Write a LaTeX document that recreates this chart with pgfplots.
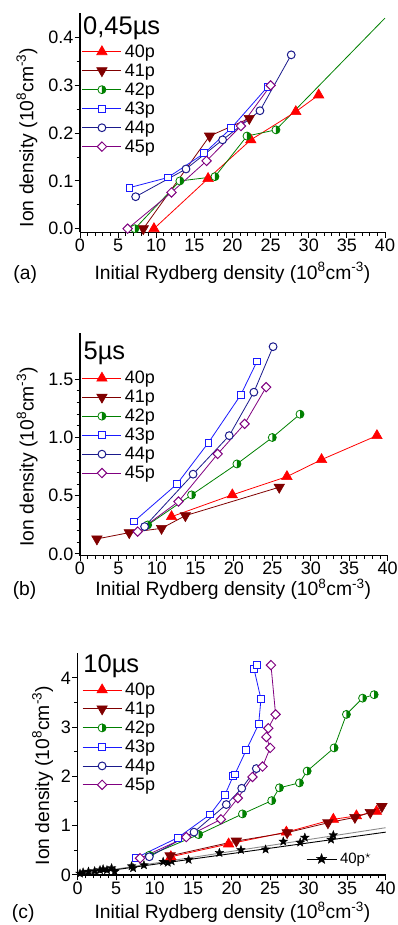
\documentclass[border=0pt]{standalone}
\usepackage{fontspec}
\setmainfont{Liberation Sans}
\usepackage{pgfplots}
\pgfplotsset{compat=1.18}

\definecolor{cRed}{HTML}{FF0000}
\definecolor{cDred}{HTML}{800000}
\definecolor{cGreen}{HTML}{008000}
\definecolor{cBlue}{HTML}{1A1AFF}
\definecolor{cNavy}{HTML}{1A1A8C}
\definecolor{cPurple}{HTML}{800080}
\definecolor{cGrey}{HTML}{8C8C8C}

\pgfdeclareplotmark{halfright}{%
  \begin{pgfscope}\pgfsetfillcolor{white}%
  \pgfpathcircle{\pgfpointorigin}{\pgfplotmarksize}\pgfusepathqfill\end{pgfscope}%
  \begin{pgfscope}\pgfsetfillcolor{cGreen}%
  \pgfpathmoveto{\pgfqpoint{0pt}{\pgfplotmarksize}}%
  \pgfpatharc{90}{-90}{\pgfplotmarksize}\pgfpathclose\pgfusepathqfill\end{pgfscope}%
  \pgfpathcircle{\pgfpointorigin}{\pgfplotmarksize}\pgfusepathqstroke
}
\pgfdeclareplotmark{fstar}{%
  \pgfpathmoveto{\pgfpointpolar{90}{\pgfplotmarksize}}%
  \pgfpathlineto{\pgfpointpolar{126}{0.42\pgfplotmarksize}}%
  \pgfpathlineto{\pgfpointpolar{162}{\pgfplotmarksize}}%
  \pgfpathlineto{\pgfpointpolar{198}{0.42\pgfplotmarksize}}%
  \pgfpathlineto{\pgfpointpolar{234}{\pgfplotmarksize}}%
  \pgfpathlineto{\pgfpointpolar{270}{0.42\pgfplotmarksize}}%
  \pgfpathlineto{\pgfpointpolar{306}{\pgfplotmarksize}}%
  \pgfpathlineto{\pgfpointpolar{342}{0.42\pgfplotmarksize}}%
  \pgfpathlineto{\pgfpointpolar{18}{\pgfplotmarksize}}%
  \pgfpathlineto{\pgfpointpolar{54}{0.42\pgfplotmarksize}}%
  \pgfpathclose\pgfusepathqfillstroke
}

\pgfplotsset{
  panel/.style={
    scale only axis, anchor=south west, clip=false,
    axis x line=bottom, axis y line=left,
    axis line style={-, line width=1.2pt},
    xmin=0, xmax=40, xtick={0,5,...,40}, minor x tick num=4,
    tick align=outside, major tick length=5.5pt, minor tick length=3.5pt,
    every tick/.style={black, line width=1pt},
    tick label style={font=\fontsize{18}{20}\selectfont, inner sep=1pt},
    /pgf/number format/assume math mode=true,
    label style={font=\fontsize{19.3}{22}\selectfont},
    xlabel={Initial Rydberg density (10\textsuperscript{8}cm\textsuperscript{-3})},
    ylabel={Ion density (10\textsuperscript{8}cm\textsuperscript{-3})},
    legend cell align=left,
    legend style={draw=none, fill=none, anchor=north west, inner sep=0pt,
      row sep=3pt, column sep=2pt, font=\fontsize{18}{20}\selectfont,
      nodes={inner sep=1pt}},
    legend image code/.code={\draw[mark repeat=2,mark phase=2,##1] plot coordinates {(0pt,0pt) (19.5pt,0pt) (39pt,0pt)};},
  },
  s40/.style={color=cRed, line width=0.8pt, mark=triangle*, mark size=6, mark options={fill=cRed, line width=0.6pt}},
  s41/.style={color=cDred, line width=0.8pt, mark=triangle*, mark size=6, mark options={rotate=180, fill=cDred, line width=0.6pt}},
  s42/.style={color=cGreen, line width=0.8pt, mark=halfright, mark size=4, mark options={line width=0.8pt}},
  s43/.style={color=cBlue, line width=0.8pt, mark=square*, mark size=3.4, mark options={fill=white, line width=1pt}},
  s44/.style={color=cNavy, line width=0.8pt, mark=*, mark size=3.9, mark options={fill=white, line width=1pt}},
  s45/.style={color=cPurple, line width=0.8pt, mark=square*, mark size=3.3, mark options={rotate=45, fill=white, line width=1pt}},
}

\begin{document}
\begin{tikzpicture}
\path[use as bounding box] (0pt,0pt) rectangle (398pt,925pt);

% ---------------- (a)
\begin{axis}[panel, at={(80pt,692.7pt)}, width=305pt, height=219pt,
  ymin=-0.0075, ymax=0.451, ytick={0,0.1,...,0.41}, minor y tick num=1,
  yticklabel style={/pgf/number format/fixed, /pgf/number format/fixed zerofill, /pgf/number format/precision=1},
  xlabel style={at={(axis description cs:0.5,-0.2146)}, anchor=base},
  ylabel style={at={(axis description cs:-0.174,0.433)}, anchor=center},
  legend style={at={(axis description cs:0.006,0.862)}}]
\addplot[forget plot, cGreen, line width=0.8pt] coordinates {(25.7,0.207) (40,0.441)};
\addplot[s40] coordinates {(9.7,0) (16.8,0.105) (22.4,0.186) (28.3,0.245) (31.3,0.28)};
\addplot[s41] coordinates {(8.3,0) (17.0,0.194) (22.2,0.231)};
\addplot[s42] coordinates {(7.2,0) (13.1,0.1) (17.7,0.109) (21.9,0.194) (25.7,0.207)};
\addplot[s43] coordinates {(6.5,0.086) (11.5,0.107) (16.3,0.158) (19.8,0.21) (24.6,0.297)};
\addplot[s44] coordinates {(7.3,0.067) (13.9,0.125) (18.7,0.186) (23.6,0.247) (27.7,0.364)};
\addplot[s45] coordinates {(6.25,0) (12.0,0.076) (16.6,0.142) (21.1,0.215) (25.0,0.3)};
\legend{40p,41p,42p,43p,44p,45p}
\node[anchor=base west, inner sep=0pt, font=\fontsize{25.5}{28}\selectfont] at (axis description cs:0.0098,0.901) {0,45µs};
\node[anchor=base west, inner sep=0pt, font=\fontsize{19.3}{22}\selectfont] at (axis description cs:-0.219,-0.2146) {(a)};
\end{axis}

% ---------------- (b)
\begin{axis}[panel, at={(80pt,369.3pt)}, width=307.7pt, height=223pt,
  ymin=-0.015, ymax=1.9, ytick={0,0.5,1,1.5}, minor y tick num=4,
  yticklabel style={/pgf/number format/fixed, /pgf/number format/fixed zerofill, /pgf/number format/precision=1},
  xlabel style={at={(axis description cs:0.498,-0.18)}, anchor=base},
  ylabel style={at={(axis description cs:-0.172,0.443)}, anchor=center},
  legend style={at={(axis description cs:0.006,0.833)}}]
\addplot[s40] coordinates {(11.9,0.32) (19.8,0.507) (26.9,0.664) (31.4,0.81) (38.6,1.016)};
\addplot[s41] coordinates {(2.2,0.129) (6.4,0.183) (10.6,0.22) (13.7,0.329) (25.9,0.573)};
\addplot[s42] coordinates {(8.8,0.249) (14.5,0.507) (20.4,0.773) (25.0,1.0) (28.6,1.2)};
\addplot[s43] coordinates {(7.0,0.278) (12.6,0.60) (16.7,0.956) (20.9,1.366) (23.0,1.652)};
\addplot[s44] coordinates {(8.4,0.235) (14.7,0.685) (19.4,1.016) (22.6,1.389) (25.1,1.78)};
\addplot[s45] coordinates {(7.5,0.192) (12.8,0.45) (17.9,0.859) (21.4,1.117) (24.2,1.432)};
\legend{40p,41p,42p,43p,44p,45p}
\node[anchor=base west, inner sep=0pt, font=\fontsize{25.5}{28}\selectfont] at (axis description cs:0.011,0.878) {5µs};
\node[anchor=base west, inner sep=0pt, font=\fontsize{19.3}{22}\selectfont] at (axis description cs:-0.219,-0.18) {(b)};
\end{axis}

% ---------------- (c)
\begin{axis}[panel, at={(77.7pt,50pt)}, width=308pt, height=221.7pt,
  ymin=0, ymax=4.5, ytick={0,1,2,3,4}, minor y tick num=1,
  xlabel style={at={(axis description cs:0.5026,-0.198)}, anchor=base},
  ylabel style={at={(axis description cs:-0.114,0.448)}, anchor=center},
  legend style={at={(axis description cs:0.014,0.872)}}]
\addplot[forget plot, black, only marks, mark=fstar, mark size=4.6, mark options={line width=0.3pt}] coordinates {
 (0.3,0.03) (0.7,0.055) (1.4,0.07) (2.2,0.08) (2.9,0.1) (3.3,0.12) (3.8,0.1) (4.4,0.14) (4.8,0.07)
 (7.0,0.18) (7.2,0.14) (8.6,0.2) (11.1,0.27) (11.7,0.25) (12.2,0.28) (14.4,0.31) (18.4,0.45)
 (21.2,0.51) (24.4,0.52) (26.7,0.68) (28.9,0.66) (29.5,0.76) (32.9,0.72) (33.2,0.81)};
\addplot[forget plot, cGrey, line width=0.9pt] coordinates {(0,0) (40,0.96)};
\addplot[forget plot, black, line width=0.9pt] coordinates {(0,0) (40,0.87)};
\addplot[s40] coordinates {(12.1,0.37) (19.6,0.63) (27.1,0.87) (33.2,1.13) (36.2,1.2) (38.8,1.29)};
\addplot[s41] coordinates {(12.0,0.39) (20.6,0.69) (27.2,0.86) (32.5,1.06) (36.0,1.17) (38.0,1.27) (39.5,1.39)};
\addplot[s42] coordinates {(9.3,0.4) (15.7,0.82) (21.4,1.24) (25.2,1.51) (26.2,1.77) (28.8,1.87) (29.8,2.11) (33.3,2.58) (34.9,3.26) (37.0,3.59) (38.5,3.66)};
\addplot[s43] coordinates {(7.6,0.35) (13.0,0.757) (17.2,1.23) (19.1,1.62) (20.2,2.01) (20.4,2.04) (21.9,2.54) (23.5,3.06) (23.8,3.57) (22.9,4.18) (23.3,4.27)};
\addplot[s44] coordinates {(9.3,0.37) (15.1,0.87) (19.3,1.43) (21.3,1.76) (23.2,2.16)};
\addplot[s45] coordinates {(8.1,0.34) (14.1,0.77) (18.6,1.13) (20.8,1.56) (22.7,1.99) (24.0,2.2) (25.0,2.58) (24.5,2.8) (24.75,2.98) (25.7,3.26) (25.1,4.26)};
\legend{40p,41p,42p,43p,44p,45p}
\node[anchor=base west, inner sep=0pt, font=\fontsize{25.5}{28}\selectfont] at (axis description cs:0.018,0.9125) {10µs};
\node[anchor=base west, inner sep=0pt, font=\fontsize{19.3}{22}\selectfont] at (axis description cs:-0.214,-0.198) {(c)};
\end{axis}

% legend for 40p* in (c)
\begin{axis}[scale only axis, anchor=south west, at={(77.7pt,50pt)}, width=308pt, height=221.7pt,
  hide axis, xmin=0, xmax=40, ymin=0, ymax=4.5,
  legend style={draw=none, fill=none, anchor=west, inner sep=0pt, at={(axis description cs:0.741,0.072)},
    font=\fontsize{15}{17}\selectfont, nodes={inner sep=1pt}, column sep=2pt},
  legend image code/.code={\draw[mark repeat=2,mark phase=2,#1] plot coordinates {(0pt,0pt) (15pt,0pt) (30pt,0pt)};}]
\addlegendimage{black, line width=0.9pt, mark=fstar, mark size=5.5, mark options={line width=0.3pt}}
\addlegendentry{40p\textsuperscript{$\star$}}
\end{axis}
\end{tikzpicture}
\end{document}
